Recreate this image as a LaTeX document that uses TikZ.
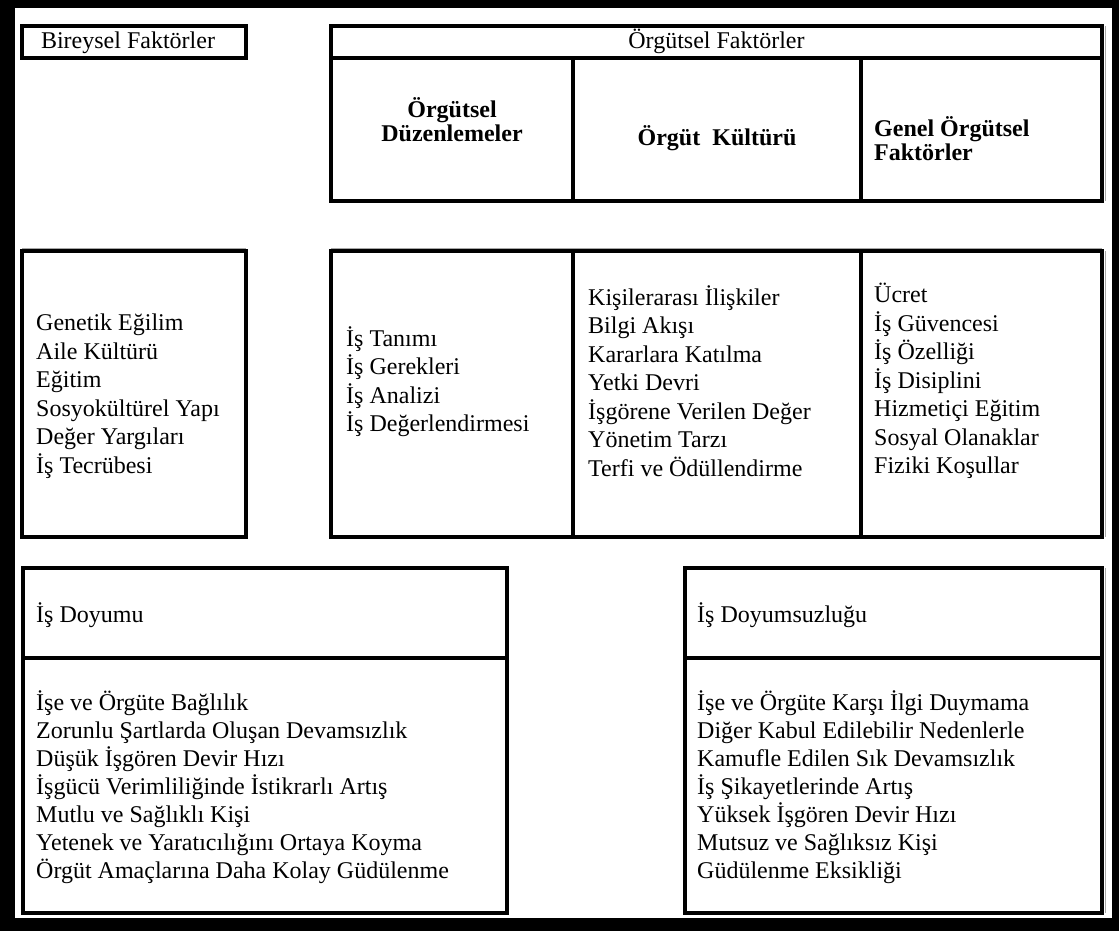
\documentclass[tikz,border=0pt]{standalone}
\usepackage{fontspec}
\setmainfont{Liberation Serif}
\usepackage{tikz}

\tikzset{
  frameline/.style={line width=3.2pt},
  ghostline/.style={gray!70, line width=1pt},
  listtext/.style={anchor=west, align=left, inner sep=0pt, font=\fontsize{24}{28.5}\selectfont},
  headtext/.style={anchor=base, inner sep=0pt, font=\fontsize{24}{28}\selectfont},
  boldtext/.style={inner sep=0pt, font=\bfseries\fontsize{24}{24}\selectfont},
}

\begin{document}
\begin{tikzpicture}[x=1pt,y=-1pt]
\fill[black] (0,0) rectangle (1119,931);
\fill[white] (15,8) rectangle (1112,918);

\draw[frameline] (22,26) rectangle (246,58);
\node[headtext] (bireysel) at (128,49) {Bireysel Faktörler};

\draw[frameline] (331,26) rectangle (1102,201);
\draw[frameline] (331,58)--(1102,58);
\draw[frameline] (573,58)--(573,201);
\draw[frameline] (861,58)--(861,201);
\draw[ghostline] (1105,26)--(1105,201);
\node[headtext] (orgutsel) at (716.5,49) {Örgütsel Faktörler};
\node[boldtext, align=center] (duzen) at (452,120) {Örgütsel\\Düzenlemeler};
\node[boldtext] (kultur) at (717,138) {Örgüt~~Kültürü};
\node[boldtext, align=left, anchor=west] (genel) at (874,139) {Genel Örgütsel\\Faktörler};

\draw[frameline] (22,251) rectangle (246,537);
\draw[ghostline] (22,248)--(246,248);
\draw[frameline] (331,251) rectangle (1102,537);
\draw[frameline] (573,251)--(573,537);
\draw[frameline] (861,251)--(861,537);
\draw[ghostline] (331,248)--(1102,248);
\draw[ghostline] (1105,251)--(1105,537);
\node[listtext] (bireyliste) at (36,396) {Genetik Eğilim\\Aile Kültürü\\Eğitim\\Sosyokültürel Yapı\\Değer Yargıları\\İş Tecrübesi};
\node[listtext] (duzenliste) at (346,381.5) {İş Tanımı\\İş Gerekleri\\İş Analizi\\İş Değerlendirmesi};
\node[listtext] (kulturliste) at (588,381) {Kişilerarası İlişkiler\\Bilgi Akışı\\Kararlara Katılma\\Yetki Devri\\İşgörene Verilen Değer\\Yönetim Tarzı\\Terfi ve Ödüllendirme};
\node[listtext] (genelliste) at (874,381) {Ücret\\İş Güvencesi\\İş Özelliği\\İş Disiplini\\Hizmetiçi Eğitim\\Sosyal Olanaklar\\Fiziki Koşullar};

\draw[frameline] (23,568) rectangle (507,913);
\draw[frameline] (23,658)--(507,658);
\node[listtext] (doyum) at (36,615) {İş Doyumu};
\node[listtext, font=\fontsize{24}{28}\selectfont] (doyumliste) at (36,787.5) {İşe ve Örgüte Bağlılık\\Zorunlu Şartlarda Oluşan Devamsızlık\\Düşük İşgören Devir Hızı\\İşgücü Verimliliğinde İstikrarlı Artış\\Mutlu ve Sağlıklı Kişi\\Yetenek ve Yaratıcılığını Ortaya Koyma\\Örgüt Amaçlarına Daha Kolay Güdülenme};

\draw[frameline] (685,568) rectangle (1102,913);
\draw[frameline] (685,658)--(1102,658);
\draw[ghostline] (1105,568)--(1105,913);
\node[listtext] (doyumsuz) at (697,615) {İş Doyumsuzluğu};
\node[listtext, font=\fontsize{24}{28}\selectfont] (doyumsuzliste) at (697,787.5) {İşe ve Örgüte Karşı İlgi Duymama\\Diğer Kabul Edilebilir Nedenlerle\\Kamufle Edilen Sık Devamsızlık\\İş Şikayetlerinde Artış\\Yüksek İşgören Devir Hızı\\Mutsuz ve Sağlıksız Kişi\\Güdülenme Eksikliği};
\end{tikzpicture}
\end{document}
